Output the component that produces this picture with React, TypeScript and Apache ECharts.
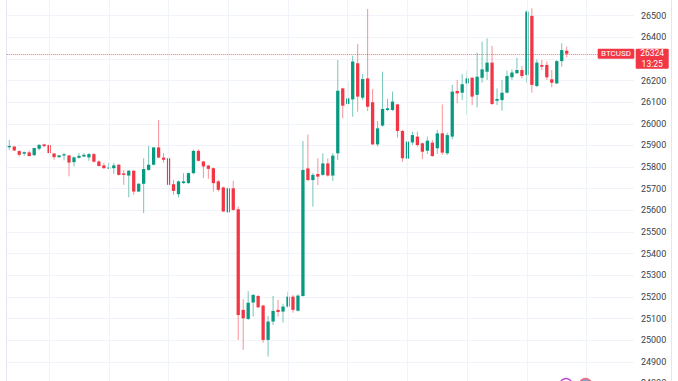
import React, { useEffect, useRef } from "react";
import * as echarts from "echarts";

// ---- data ----
const opens = [
  25892, 25895, 25874, 25862, 25868, 25855, 25885, 25905, 25902, 25863,
  25846, 25854, 25854, 25823, 25843, 25849, 25845, 25860, 25826, 25808,
  25794, 25795, 25811, 25771, 25761, 25783, 25687, 25723, 25787, 25811,
  25891, 25844, 25841, 25721, 25675, 25726, 25726, 25772, 25875, 25826,
  25807, 25795, 25734, 25706, 25591, 25702, 25605, 25140, 25098, 25174,
  25204, 25160, 25001, 25086, 25140, 25132, 25155, 25201, 25136, 25204,
  25794, 25740, 25768, 25764, 25817, 25761, 25864, 26164, 26092, 26113,
  26280, 26121, 26210, 26100, 25905, 25992, 26064, 26064, 26090, 25967,
  25839, 25914, 25941, 25910, 25876, 25913, 25887, 25956, 25864, 25941,
  26152, 26144, 26187, 26213, 26134, 26213, 26241, 26283, 26107, 26110,
  26144, 26215, 26234, 26249, 26226, 26499, 26175, 26272, 26272, 26206,
  26187, 26290, 26338,
];
const closes = [
  25898, 25877, 25857, 25869, 25851, 25888, 25903, 25897, 25865, 25846,
  25854, 25860, 25821, 25845, 25852, 25857, 25860, 25825, 25805, 25795,
  25798, 25808, 25764, 25764, 25783, 25687, 25723, 25791, 25811, 25891,
  25844, 25834, 25718, 25690, 25734, 25734, 25772, 25875, 25829, 25803,
  25792, 25726, 25695, 25595, 25702, 25602, 25116, 25101, 25173, 25209,
  25152, 25001, 25086, 25135, 25130, 25155, 25201, 25140, 25206, 25787,
  25740, 25764, 25756, 25817, 25761, 25853, 26153, 26084, 26118, 26288,
  26126, 26207, 26079, 25905, 25979, 26069, 26072, 26103, 25967, 25841,
  25918, 25948, 25902, 25871, 25922, 25851, 25956, 25867, 25948, 26149,
  26141, 26183, 26210, 26126, 26218, 26252, 26283, 26092, 26115, 26144,
  26221, 26237, 26249, 26221, 26519, 26180, 26283, 26264, 26215, 26190,
  26290, 26341, 26324,
];
const lows = [
  25880, 25874, 25849, 25852, 25849, 25853, 25877, 25892, 25862, 25834,
  25843, 25831, 25757, 25803, 25840, 25846, 25829, 25822, 25803, 25792,
  25792, 25768, 25761, 25718, 25660, 25672, 25684, 25587, 25783, 25808,
  25841, 25820, 25672, 25672, 25660, 25723, 25723, 25767, 25826, 25749,
  25746, 25687, 25687, 25592, 25587, 25599, 25001, 24955, 25093, 25109,
  25147, 24988, 24924, 25070, 25109, 25081, 25150, 25127, 25132, 25201,
  25737, 25617, 25717, 25760, 25756, 25736, 25833, 26026, 26087, 26033,
  26056, 26110, 26059, 25902, 25895, 25987, 26059, 26059, 25936, 25825,
  25761, 25902, 25894, 25837, 25860, 25848, 25861, 25856, 25856, 25928,
  26095, 26110, 26041, 26087, 26076, 26190, 26203, 26087, 26087, 26061,
  26141, 26203, 26231, 26210, 26190, 26144, 26169, 26249, 26203, 26169,
  26184, 26264, 26307,
];
const highs = [
  25926, 25898, 25877, 25872, 25877, 25890, 25905, 25908, 25905, 25865,
  25856, 25865, 25856, 25849, 25865, 25865, 25865, 25865, 25831, 25820,
  25820, 25820, 25814, 25787, 25787, 25787, 25726, 25841, 25898, 25892,
  26018, 25865, 25869, 25741, 25737, 25772, 25775, 25880, 25883, 25829,
  25810, 25798, 25741, 25710, 25710, 25737, 25617, 25189, 25227, 25213,
  25209, 25163, 25112, 25204, 25186, 25168, 25224, 25209, 25212, 25921,
  25951, 25772, 25841, 25864, 25841, 25864, 26295, 26167, 26198, 26315,
  26369, 26230, 26531, 26161, 26013, 26241, 26115, 26149, 26093, 25972,
  25979, 25964, 25964, 25913, 25941, 25925, 25972, 26090, 25959, 26180,
  26203, 26230, 26246, 26218, 26329, 26380, 26395, 26360, 26164, 26203,
  26246, 26252, 26306, 26267, 26526, 26534, 26298, 26295, 26288, 26249,
  26295, 26372, 26357,
];
const EMPTY_SLOTS = 13; // free space to the right of the last bar
const categories = Array.from({ length: opens.length + EMPTY_SLOTS }, (_, i) => String(i));
const gridMarks = [8, 20, 32, 44, 56, 68, 80, 92, 104, 116];
const lastPrice = 26324;
const symbolName = "BTCUSD";
const countdown = "13:25";
const yMin = 24800;
const yMax = 26600;
const yStep = 100;

const UP = "#089981";
const DOWN = "#f23645";
const GRID = "#f0f3fa";
const FONT = "Roboto, 'Noto Sans', sans-serif";

export default function App() {
  const ref = useRef<HTMLDivElement>(null);
  useEffect(() => {
    if (!ref.current) return;
    const chart = echarts.init(ref.current, undefined, { renderer: "svg" });
    const candleData = opens.map((o, i) => [i, o, closes[i], lows[i], highs[i]]);
    chart.setOption({
      animation: false,
      backgroundColor: "#ffffff",
      grid: {
        left: 6.8,
        right: 44.1,
        top: -5.93,
        bottom: -2.4,
        containLabel: false,
        outerBoundsMode: "none",
      },
      xAxis: {
        type: "category",
        data: categories,
        boundaryGap: true,
        show: false,
      },
      yAxis: {
        type: "value",
        position: "right",
        min: yMin,
        max: yMax,
        interval: yStep,
        axisLine: { show: false },
        axisTick: { show: false },
        splitLine: { show: true, lineStyle: { color: GRID, width: 1 } },
        axisLabel: {
          color: "#3b3f4a",
          fontSize: 9,
          fontFamily: FONT,
          margin: 7,
          showMaxLabel: false,
          // the tick label under the live price tag is covered by it
          formatter: (v: number) => (Math.abs(v - lastPrice) < 40 ? "" : String(v)),
        },
      },
      series: [
        {
          type: "line",
          data: closes,
          symbol: "none",
          silent: true,
          z: 1,
          lineStyle: { opacity: 0 },
          markLine: {
            silent: true,
            symbol: ["none", "none"],
            label: { show: false },
            lineStyle: { color: GRID, width: 1, type: "solid" },
            data: gridMarks.map((m) => ({ xAxis: m })),
          },
        },
        {
          type: "custom",
          z: 3,
          data: candleData,
          encode: { x: 0, y: [1, 2, 3, 4] },
          renderItem: (params: any, api: any) => {
            const i = api.value(0);
            const o = api.value(1);
            const c = api.value(2);
            const l = api.value(3);
            const h = api.value(4);
            const po = api.coord([i, o]);
            const pc = api.coord([i, c]);
            const pl = api.coord([i, l]);
            const ph = api.coord([i, h]);
            const band = api.size([1, 0])[0];
            const w = band * 0.66;
            const x = po[0];
            const col = c >= o ? UP : DOWN;
            const top = Math.min(po[1], pc[1]);
            const hgt = Math.max(Math.abs(po[1] - pc[1]), 1);
            return {
              type: "group",
              children: [
                {
                  type: "line",
                  shape: { x1: x, y1: ph[1], x2: x, y2: pl[1] },
                  style: { stroke: col, lineWidth: 1, opacity: 0.55 },
                },
                {
                  type: "rect",
                  shape: { x: x - w / 2, y: top, width: w, height: hgt },
                  style: { fill: col },
                },
              ],
            };
          },
          markLine: {
            silent: true,
            symbol: ["none", "none"],
            label: { show: false },
            lineStyle: { color: DOWN, width: 1, type: [1, 1], opacity: 0.7 },
            data: [{ yAxis: lastPrice }],
          },
        },
      ],
    });

    const py = chart.convertToPixel({ yAxisIndex: 0 }, lastPrice) as number;
    chart.setOption({
      graphic: [
        { type: "line", shape: { x1: 6.5, y1: 0, x2: 6.5, y2: 381 }, style: { stroke: "#e3e6f0", lineWidth: 1 }, z: 0 },
        { type: "line", shape: { x1: 671.5, y1: 0, x2: 671.5, y2: 381 }, style: { stroke: "#e3e6f0", lineWidth: 1 }, z: 0 },
        { type: "rect", shape: { x: 597.7, y: py - 5, width: 36.6, height: 10, r: 1 }, style: { fill: DOWN }, z: 10 },
        {
          type: "text",
          x: 616,
          y: py,
          style: { text: symbolName, fill: "#ffffff", fontSize: 8, fontFamily: FONT, align: "center", verticalAlign: "middle" },
          z: 11,
        },
        { type: "rect", shape: { x: 635.7, y: py - 5, width: 33, height: 20, r: 1 }, style: { fill: DOWN }, z: 10 },
        {
          type: "text",
          x: 652.2,
          y: py - 0.3,
          style: { text: String(lastPrice), fill: "#ffffff", fontSize: 8.5, fontFamily: FONT, align: "center", verticalAlign: "middle" },
          z: 11,
        },
        {
          type: "text",
          x: 652.2,
          y: py + 9.8,
          style: { text: countdown, fill: "#ffffff", fontSize: 8.5, fontFamily: FONT, align: "center", verticalAlign: "middle" },
          z: 11,
        },
        { type: "circle", shape: { cx: 566, cy: 384.5, r: 6 }, style: { fill: "#ffffff", stroke: "#b44fd4", lineWidth: 1.5 }, z: 10 },
        { type: "circle", shape: { cx: 585.5, cy: 384.5, r: 6 }, style: { fill: "#7ea6dc", stroke: "#ef6a76", lineWidth: 1.5 }, z: 10 },
      ],
    });

    return () => chart.dispose();
  }, []);

  return (
    <div
      ref={ref}
      style={{ position: "fixed", left: 0, top: 0, width: 678, height: 381, background: "#ffffff" }}
    />
  );
}
